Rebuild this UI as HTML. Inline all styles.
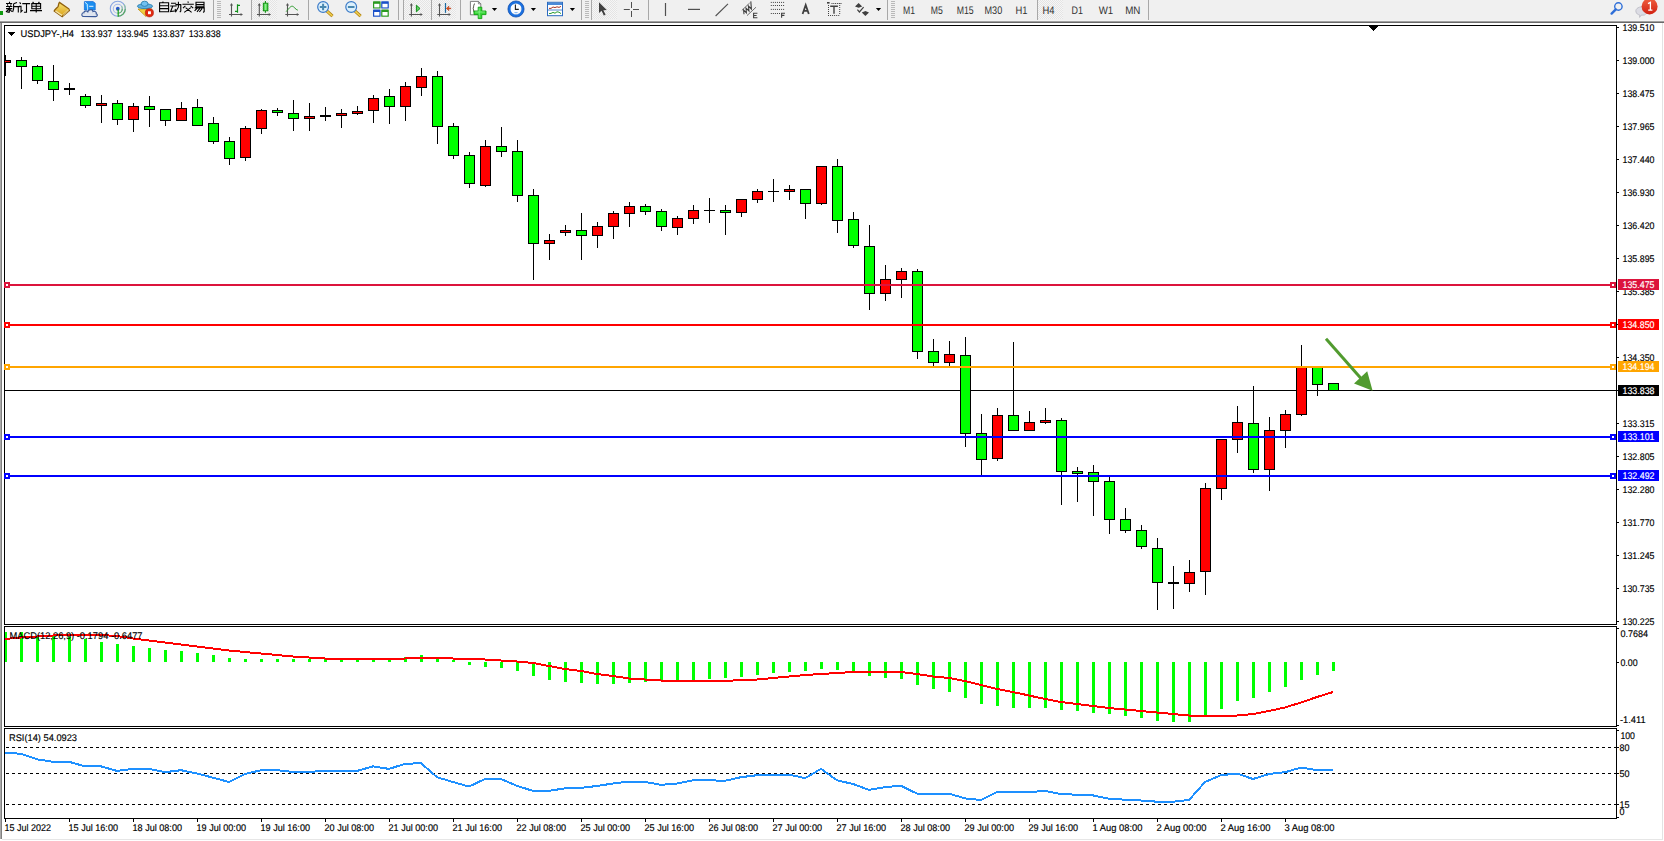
<!DOCTYPE html>
<html><head><meta charset="utf-8"><title>MT4</title>
<style>
html,body{margin:0;padding:0;background:#fff}
body{width:1664px;height:841px;overflow:hidden;position:relative}
svg{position:absolute;left:0;top:0;display:block}
text{font-family:"Liberation Sans", sans-serif;text-rendering:geometricPrecision}
</style></head><body>
<svg width="1664" height="841" viewBox="0 0 1664 841" shape-rendering="crispEdges">
<rect x="0" y="0" width="1664" height="841" fill="#ffffff"/>
<rect x="0" y="0" width="1664" height="21" fill="#f0f0f0"/>
<rect x="0" y="20" width="1664" height="1" fill="#f4f4f4"/>
<rect x="0" y="21" width="1664" height="1" fill="#a0a0a0"/>
<rect x="0" y="22" width="1664" height="1" fill="#696969"/>
<rect x="0" y="23" width="1" height="816" fill="#a9a9a9"/>
<rect x="1" y="23" width="1" height="816" fill="#808080"/>
<rect x="1662" y="23" width="1" height="816" fill="#e3e3e3"/>
<rect x="2" y="839" width="1661" height="1" fill="#e6e6e6"/>
<rect x="4" y="25" width="1613" height="1" fill="#000"/>
<rect x="4" y="624" width="1613" height="1" fill="#000"/>
<rect x="4" y="25" width="1" height="600" fill="#000"/>
<rect x="1616" y="25" width="1" height="600" fill="#000"/>
<rect x="4" y="626" width="1613" height="1" fill="#000"/>
<rect x="4" y="726" width="1613" height="1" fill="#000"/>
<rect x="4" y="626" width="1" height="101" fill="#000"/>
<rect x="1616" y="626" width="1" height="101" fill="#000"/>
<rect x="4" y="728" width="1613" height="1" fill="#000"/>
<rect x="4" y="818" width="1613" height="1" fill="#000"/>
<rect x="4" y="728" width="1" height="91" fill="#000"/>
<rect x="1616" y="728" width="1" height="91" fill="#000"/>
<defs><clipPath id="cm"><rect x="5" y="26" width="1611" height="598"/></clipPath><clipPath id="cd"><rect x="5" y="627" width="1611" height="99"/></clipPath><clipPath id="cr"><rect x="5" y="729" width="1611" height="89"/></clipPath></defs>
<g clip-path="url(#cm)">
<rect x="5" y="390" width="1611" height="1" fill="#000"/>
<rect x="5" y="55" width="1" height="21" fill="#000"/>
<rect x="0" y="60" width="11" height="3" fill="#000"/>
<rect x="1" y="61" width="9" height="1" fill="#ff0000"/>
<rect x="21" y="57" width="1" height="32" fill="#000"/>
<rect x="16" y="60" width="11" height="7" fill="#000"/>
<rect x="17" y="61" width="9" height="5" fill="#00ff00"/>
<rect x="37" y="65" width="1" height="19" fill="#000"/>
<rect x="32" y="66" width="11" height="15" fill="#000"/>
<rect x="33" y="67" width="9" height="13" fill="#00ff00"/>
<rect x="53" y="65" width="1" height="36" fill="#000"/>
<rect x="48" y="81" width="11" height="9" fill="#000"/>
<rect x="49" y="82" width="9" height="7" fill="#00ff00"/>
<rect x="69" y="83" width="1" height="12" fill="#000"/>
<rect x="64" y="88" width="11" height="2" fill="#000"/>
<rect x="85" y="94" width="1" height="14" fill="#000"/>
<rect x="80" y="96" width="11" height="10" fill="#000"/>
<rect x="81" y="97" width="9" height="8" fill="#00ff00"/>
<rect x="101" y="95" width="1" height="28" fill="#000"/>
<rect x="96" y="103" width="11" height="3" fill="#000"/>
<rect x="97" y="104" width="9" height="1" fill="#ff0000"/>
<rect x="117" y="100" width="1" height="25" fill="#000"/>
<rect x="112" y="103" width="11" height="17" fill="#000"/>
<rect x="113" y="104" width="9" height="15" fill="#00ff00"/>
<rect x="133" y="103" width="1" height="29" fill="#000"/>
<rect x="128" y="106" width="11" height="14" fill="#000"/>
<rect x="129" y="107" width="9" height="12" fill="#ff0000"/>
<rect x="149" y="96" width="1" height="31" fill="#000"/>
<rect x="144" y="106" width="11" height="4" fill="#000"/>
<rect x="145" y="107" width="9" height="2" fill="#00ff00"/>
<rect x="165" y="109" width="1" height="17" fill="#000"/>
<rect x="160" y="109" width="11" height="12" fill="#000"/>
<rect x="161" y="110" width="9" height="10" fill="#00ff00"/>
<rect x="181" y="102" width="1" height="19" fill="#000"/>
<rect x="176" y="108" width="11" height="13" fill="#000"/>
<rect x="177" y="109" width="9" height="11" fill="#ff0000"/>
<rect x="197" y="99" width="1" height="27" fill="#000"/>
<rect x="192" y="107" width="11" height="19" fill="#000"/>
<rect x="193" y="108" width="9" height="17" fill="#00ff00"/>
<rect x="213" y="117" width="1" height="27" fill="#000"/>
<rect x="208" y="123" width="11" height="19" fill="#000"/>
<rect x="209" y="124" width="9" height="17" fill="#00ff00"/>
<rect x="229" y="137" width="1" height="28" fill="#000"/>
<rect x="224" y="141" width="11" height="18" fill="#000"/>
<rect x="225" y="142" width="9" height="16" fill="#00ff00"/>
<rect x="245" y="126" width="1" height="35" fill="#000"/>
<rect x="240" y="128" width="11" height="30" fill="#000"/>
<rect x="241" y="129" width="9" height="28" fill="#ff0000"/>
<rect x="261" y="109" width="1" height="25" fill="#000"/>
<rect x="256" y="110" width="11" height="19" fill="#000"/>
<rect x="257" y="111" width="9" height="17" fill="#ff0000"/>
<rect x="277" y="108" width="1" height="8" fill="#000"/>
<rect x="272" y="110" width="11" height="3" fill="#000"/>
<rect x="273" y="111" width="9" height="1" fill="#00ff00"/>
<rect x="293" y="100" width="1" height="31" fill="#000"/>
<rect x="288" y="113" width="11" height="6" fill="#000"/>
<rect x="289" y="114" width="9" height="4" fill="#00ff00"/>
<rect x="309" y="103" width="1" height="28" fill="#000"/>
<rect x="304" y="116" width="11" height="3" fill="#000"/>
<rect x="305" y="117" width="9" height="1" fill="#ff0000"/>
<rect x="325" y="107" width="1" height="14" fill="#000"/>
<rect x="320" y="115" width="11" height="2" fill="#000"/>
<rect x="341" y="109" width="1" height="19" fill="#000"/>
<rect x="336" y="113" width="11" height="3" fill="#000"/>
<rect x="337" y="114" width="9" height="1" fill="#ff0000"/>
<rect x="357" y="106" width="1" height="9" fill="#000"/>
<rect x="352" y="111" width="11" height="3" fill="#000"/>
<rect x="353" y="112" width="9" height="1" fill="#ff0000"/>
<rect x="373" y="95" width="1" height="28" fill="#000"/>
<rect x="368" y="98" width="11" height="13" fill="#000"/>
<rect x="369" y="99" width="9" height="11" fill="#ff0000"/>
<rect x="389" y="89" width="1" height="35" fill="#000"/>
<rect x="384" y="96" width="11" height="11" fill="#000"/>
<rect x="385" y="97" width="9" height="9" fill="#00ff00"/>
<rect x="405" y="82" width="1" height="39" fill="#000"/>
<rect x="400" y="86" width="11" height="21" fill="#000"/>
<rect x="401" y="87" width="9" height="19" fill="#ff0000"/>
<rect x="421" y="68" width="1" height="28" fill="#000"/>
<rect x="416" y="76" width="11" height="12" fill="#000"/>
<rect x="417" y="77" width="9" height="10" fill="#ff0000"/>
<rect x="437" y="71" width="1" height="73" fill="#000"/>
<rect x="432" y="76" width="11" height="51" fill="#000"/>
<rect x="433" y="77" width="9" height="49" fill="#00ff00"/>
<rect x="453" y="123" width="1" height="36" fill="#000"/>
<rect x="448" y="126" width="11" height="30" fill="#000"/>
<rect x="449" y="127" width="9" height="28" fill="#00ff00"/>
<rect x="469" y="152" width="1" height="36" fill="#000"/>
<rect x="464" y="155" width="11" height="29" fill="#000"/>
<rect x="465" y="156" width="9" height="27" fill="#00ff00"/>
<rect x="485" y="140" width="1" height="47" fill="#000"/>
<rect x="480" y="146" width="11" height="40" fill="#000"/>
<rect x="481" y="147" width="9" height="38" fill="#ff0000"/>
<rect x="501" y="127" width="1" height="30" fill="#000"/>
<rect x="496" y="146" width="11" height="6" fill="#000"/>
<rect x="497" y="147" width="9" height="4" fill="#00ff00"/>
<rect x="517" y="140" width="1" height="62" fill="#000"/>
<rect x="512" y="151" width="11" height="45" fill="#000"/>
<rect x="513" y="152" width="9" height="43" fill="#00ff00"/>
<rect x="533" y="189" width="1" height="91" fill="#000"/>
<rect x="528" y="195" width="11" height="49" fill="#000"/>
<rect x="529" y="196" width="9" height="47" fill="#00ff00"/>
<rect x="549" y="234" width="1" height="26" fill="#000"/>
<rect x="544" y="240" width="11" height="4" fill="#000"/>
<rect x="545" y="241" width="9" height="2" fill="#ff0000"/>
<rect x="565" y="225" width="1" height="11" fill="#000"/>
<rect x="560" y="230" width="11" height="3" fill="#000"/>
<rect x="561" y="231" width="9" height="1" fill="#ff0000"/>
<rect x="581" y="213" width="1" height="47" fill="#000"/>
<rect x="576" y="230" width="11" height="6" fill="#000"/>
<rect x="577" y="231" width="9" height="4" fill="#00ff00"/>
<rect x="597" y="222" width="1" height="26" fill="#000"/>
<rect x="592" y="226" width="11" height="10" fill="#000"/>
<rect x="593" y="227" width="9" height="8" fill="#ff0000"/>
<rect x="613" y="211" width="1" height="28" fill="#000"/>
<rect x="608" y="213" width="11" height="14" fill="#000"/>
<rect x="609" y="214" width="9" height="12" fill="#ff0000"/>
<rect x="629" y="202" width="1" height="25" fill="#000"/>
<rect x="624" y="206" width="11" height="8" fill="#000"/>
<rect x="625" y="207" width="9" height="6" fill="#ff0000"/>
<rect x="645" y="204" width="1" height="11" fill="#000"/>
<rect x="640" y="206" width="11" height="6" fill="#000"/>
<rect x="641" y="207" width="9" height="4" fill="#00ff00"/>
<rect x="661" y="209" width="1" height="22" fill="#000"/>
<rect x="656" y="211" width="11" height="16" fill="#000"/>
<rect x="657" y="212" width="9" height="14" fill="#00ff00"/>
<rect x="677" y="216" width="1" height="19" fill="#000"/>
<rect x="672" y="218" width="11" height="10" fill="#000"/>
<rect x="673" y="219" width="9" height="8" fill="#ff0000"/>
<rect x="693" y="205" width="1" height="19" fill="#000"/>
<rect x="688" y="210" width="11" height="9" fill="#000"/>
<rect x="689" y="211" width="9" height="7" fill="#ff0000"/>
<rect x="709" y="198" width="1" height="25" fill="#000"/>
<rect x="704" y="210" width="11" height="1" fill="#000"/>
<rect x="725" y="205" width="1" height="30" fill="#000"/>
<rect x="720" y="210" width="11" height="3" fill="#000"/>
<rect x="721" y="211" width="9" height="1" fill="#00ff00"/>
<rect x="741" y="199" width="1" height="18" fill="#000"/>
<rect x="736" y="199" width="11" height="14" fill="#000"/>
<rect x="737" y="200" width="9" height="12" fill="#ff0000"/>
<rect x="757" y="189" width="1" height="14" fill="#000"/>
<rect x="752" y="191" width="11" height="9" fill="#000"/>
<rect x="753" y="192" width="9" height="7" fill="#ff0000"/>
<rect x="773" y="179" width="1" height="23" fill="#000"/>
<rect x="768" y="191" width="11" height="1" fill="#000"/>
<rect x="789" y="185" width="1" height="15" fill="#000"/>
<rect x="784" y="189" width="11" height="3" fill="#000"/>
<rect x="785" y="190" width="9" height="1" fill="#ff0000"/>
<rect x="805" y="189" width="1" height="30" fill="#000"/>
<rect x="800" y="189" width="11" height="15" fill="#000"/>
<rect x="801" y="190" width="9" height="13" fill="#00ff00"/>
<rect x="821" y="166" width="1" height="39" fill="#000"/>
<rect x="816" y="166" width="11" height="38" fill="#000"/>
<rect x="817" y="167" width="9" height="36" fill="#ff0000"/>
<rect x="837" y="159" width="1" height="74" fill="#000"/>
<rect x="832" y="166" width="11" height="55" fill="#000"/>
<rect x="833" y="167" width="9" height="53" fill="#00ff00"/>
<rect x="853" y="212" width="1" height="36" fill="#000"/>
<rect x="848" y="219" width="11" height="27" fill="#000"/>
<rect x="849" y="220" width="9" height="25" fill="#00ff00"/>
<rect x="869" y="225" width="1" height="85" fill="#000"/>
<rect x="864" y="246" width="11" height="48" fill="#000"/>
<rect x="865" y="247" width="9" height="46" fill="#00ff00"/>
<rect x="885" y="265" width="1" height="36" fill="#000"/>
<rect x="880" y="279" width="11" height="15" fill="#000"/>
<rect x="881" y="280" width="9" height="13" fill="#ff0000"/>
<rect x="901" y="268" width="1" height="30" fill="#000"/>
<rect x="896" y="271" width="11" height="9" fill="#000"/>
<rect x="897" y="272" width="9" height="7" fill="#ff0000"/>
<rect x="917" y="269" width="1" height="90" fill="#000"/>
<rect x="912" y="271" width="11" height="81" fill="#000"/>
<rect x="913" y="272" width="9" height="79" fill="#00ff00"/>
<rect x="933" y="339" width="1" height="28" fill="#000"/>
<rect x="928" y="351" width="11" height="12" fill="#000"/>
<rect x="929" y="352" width="9" height="10" fill="#00ff00"/>
<rect x="949" y="341" width="1" height="26" fill="#000"/>
<rect x="944" y="354" width="11" height="9" fill="#000"/>
<rect x="945" y="355" width="9" height="7" fill="#ff0000"/>
<rect x="965" y="337" width="1" height="110" fill="#000"/>
<rect x="960" y="355" width="11" height="79" fill="#000"/>
<rect x="961" y="356" width="9" height="77" fill="#00ff00"/>
<rect x="981" y="414" width="1" height="62" fill="#000"/>
<rect x="976" y="433" width="11" height="27" fill="#000"/>
<rect x="977" y="434" width="9" height="25" fill="#00ff00"/>
<rect x="997" y="408" width="1" height="53" fill="#000"/>
<rect x="992" y="415" width="11" height="44" fill="#000"/>
<rect x="993" y="416" width="9" height="42" fill="#ff0000"/>
<rect x="1013" y="342" width="1" height="89" fill="#000"/>
<rect x="1008" y="415" width="11" height="16" fill="#000"/>
<rect x="1009" y="416" width="9" height="14" fill="#00ff00"/>
<rect x="1029" y="411" width="1" height="20" fill="#000"/>
<rect x="1024" y="422" width="11" height="9" fill="#000"/>
<rect x="1025" y="423" width="9" height="7" fill="#ff0000"/>
<rect x="1045" y="408" width="1" height="16" fill="#000"/>
<rect x="1040" y="420" width="11" height="3" fill="#000"/>
<rect x="1041" y="421" width="9" height="1" fill="#ff0000"/>
<rect x="1061" y="418" width="1" height="87" fill="#000"/>
<rect x="1056" y="420" width="11" height="52" fill="#000"/>
<rect x="1057" y="421" width="9" height="50" fill="#00ff00"/>
<rect x="1077" y="467" width="1" height="35" fill="#000"/>
<rect x="1072" y="471" width="11" height="3" fill="#000"/>
<rect x="1073" y="472" width="9" height="1" fill="#00ff00"/>
<rect x="1093" y="465" width="1" height="51" fill="#000"/>
<rect x="1088" y="472" width="11" height="10" fill="#000"/>
<rect x="1089" y="473" width="9" height="8" fill="#00ff00"/>
<rect x="1109" y="477" width="1" height="57" fill="#000"/>
<rect x="1104" y="481" width="11" height="39" fill="#000"/>
<rect x="1105" y="482" width="9" height="37" fill="#00ff00"/>
<rect x="1125" y="508" width="1" height="25" fill="#000"/>
<rect x="1120" y="519" width="11" height="12" fill="#000"/>
<rect x="1121" y="520" width="9" height="10" fill="#00ff00"/>
<rect x="1141" y="525" width="1" height="24" fill="#000"/>
<rect x="1136" y="530" width="11" height="17" fill="#000"/>
<rect x="1137" y="531" width="9" height="15" fill="#00ff00"/>
<rect x="1157" y="538" width="1" height="72" fill="#000"/>
<rect x="1152" y="548" width="11" height="35" fill="#000"/>
<rect x="1153" y="549" width="9" height="33" fill="#00ff00"/>
<rect x="1173" y="566" width="1" height="43" fill="#000"/>
<rect x="1168" y="582" width="11" height="2" fill="#000"/>
<rect x="1189" y="560" width="1" height="32" fill="#000"/>
<rect x="1184" y="572" width="11" height="12" fill="#000"/>
<rect x="1185" y="573" width="9" height="10" fill="#ff0000"/>
<rect x="1205" y="483" width="1" height="112" fill="#000"/>
<rect x="1200" y="488" width="11" height="84" fill="#000"/>
<rect x="1201" y="489" width="9" height="82" fill="#ff0000"/>
<rect x="1221" y="439" width="1" height="61" fill="#000"/>
<rect x="1216" y="439" width="11" height="50" fill="#000"/>
<rect x="1217" y="440" width="9" height="48" fill="#ff0000"/>
<rect x="1237" y="406" width="1" height="47" fill="#000"/>
<rect x="1232" y="422" width="11" height="18" fill="#000"/>
<rect x="1233" y="423" width="9" height="16" fill="#ff0000"/>
<rect x="1253" y="386" width="1" height="87" fill="#000"/>
<rect x="1248" y="423" width="11" height="47" fill="#000"/>
<rect x="1249" y="424" width="9" height="45" fill="#00ff00"/>
<rect x="1269" y="417" width="1" height="74" fill="#000"/>
<rect x="1264" y="430" width="11" height="40" fill="#000"/>
<rect x="1265" y="431" width="9" height="38" fill="#ff0000"/>
<rect x="1285" y="410" width="1" height="38" fill="#000"/>
<rect x="1280" y="414" width="11" height="17" fill="#000"/>
<rect x="1281" y="415" width="9" height="15" fill="#ff0000"/>
<rect x="1301" y="345" width="1" height="71" fill="#000"/>
<rect x="1296" y="367" width="11" height="48" fill="#000"/>
<rect x="1297" y="368" width="9" height="46" fill="#ff0000"/>
<rect x="1317" y="367" width="1" height="29" fill="#000"/>
<rect x="1312" y="367" width="11" height="18" fill="#000"/>
<rect x="1313" y="368" width="9" height="16" fill="#00ff00"/>
<rect x="1333" y="383" width="1" height="8" fill="#000"/>
<rect x="1328" y="383" width="11" height="8" fill="#000"/>
<rect x="1329" y="384" width="9" height="6" fill="#00ff00"/>
<rect x="5" y="284" width="1611" height="2" fill="#dc143c"/>
<rect x="4" y="282" width="6" height="6" fill="#dc143c"/>
<rect x="6" y="284" width="2" height="2" fill="#fff"/>
<rect x="1610" y="282" width="6" height="6" fill="#dc143c"/>
<rect x="1612" y="284" width="2" height="2" fill="#fff"/>
<rect x="5" y="324" width="1611" height="2" fill="#ff0000"/>
<rect x="4" y="322" width="6" height="6" fill="#ff0000"/>
<rect x="6" y="324" width="2" height="2" fill="#fff"/>
<rect x="1610" y="322" width="6" height="6" fill="#ff0000"/>
<rect x="1612" y="324" width="2" height="2" fill="#fff"/>
<rect x="5" y="366" width="1611" height="2" fill="#ffa500"/>
<rect x="4" y="364" width="6" height="6" fill="#ffa500"/>
<rect x="6" y="366" width="2" height="2" fill="#fff"/>
<rect x="1610" y="364" width="6" height="6" fill="#ffa500"/>
<rect x="1612" y="366" width="2" height="2" fill="#fff"/>
<rect x="5" y="436" width="1611" height="2" fill="#0000ff"/>
<rect x="4" y="434" width="6" height="6" fill="#0000ff"/>
<rect x="6" y="436" width="2" height="2" fill="#fff"/>
<rect x="1610" y="434" width="6" height="6" fill="#0000ff"/>
<rect x="1612" y="436" width="2" height="2" fill="#fff"/>
<rect x="5" y="475" width="1611" height="2" fill="#0000ff"/>
<rect x="4" y="473" width="6" height="6" fill="#0000ff"/>
<rect x="6" y="475" width="2" height="2" fill="#fff"/>
<rect x="1610" y="473" width="6" height="6" fill="#0000ff"/>
<rect x="1612" y="475" width="2" height="2" fill="#fff"/>
</g>
<rect x="4" y="282" width="6" height="6" fill="#dc143c"/>
<rect x="6" y="284" width="2" height="2" fill="#fff"/>
<rect x="4" y="322" width="6" height="6" fill="#ff0000"/>
<rect x="6" y="324" width="2" height="2" fill="#fff"/>
<rect x="4" y="364" width="6" height="6" fill="#ffa500"/>
<rect x="6" y="366" width="2" height="2" fill="#fff"/>
<rect x="4" y="434" width="6" height="6" fill="#0000ff"/>
<rect x="6" y="436" width="2" height="2" fill="#fff"/>
<rect x="4" y="473" width="6" height="6" fill="#0000ff"/>
<rect x="6" y="475" width="2" height="2" fill="#fff"/>
<g shape-rendering="geometricPrecision">
<line x1="1326" y1="338.8" x2="1361.5" y2="379" stroke="#519b2f" stroke-width="3"/>
<polygon points="1354,383.4 1367.2,371.2 1372.6,390.8" fill="#519b2f"/>
</g>
<rect x="8" y="32" width="7" height="1" fill="#000"/>
<rect x="9" y="33" width="5" height="1" fill="#000"/>
<rect x="10" y="34" width="3" height="1" fill="#000"/>
<rect x="11" y="35" width="1" height="1" fill="#000"/>
<rect x="1369" y="26" width="9" height="1" fill="#000"/>
<rect x="1370" y="27" width="7" height="1" fill="#000"/>
<rect x="1371" y="28" width="5" height="1" fill="#000"/>
<rect x="1372" y="29" width="3" height="1" fill="#000"/>
<rect x="1373" y="30" width="1" height="1" fill="#000"/>
<text x="20.5" y="37" font-size="9.7" fill="#000" textLength="53.5" lengthAdjust="spacingAndGlyphs" stroke="#000" stroke-width="0.15">USDJPY-,H4</text>
<text x="80.5" y="37" font-size="9.7" fill="#000" textLength="32" lengthAdjust="spacingAndGlyphs" stroke="#000" stroke-width="0.15">133.937</text>
<text x="116.55" y="37" font-size="9.7" fill="#000" textLength="32" lengthAdjust="spacingAndGlyphs" stroke="#000" stroke-width="0.15">133.945</text>
<text x="152.6" y="37" font-size="9.7" fill="#000" textLength="32" lengthAdjust="spacingAndGlyphs" stroke="#000" stroke-width="0.15">133.837</text>
<text x="188.64999999999998" y="37" font-size="9.7" fill="#000" textLength="32" lengthAdjust="spacingAndGlyphs" stroke="#000" stroke-width="0.15">133.838</text>
<rect x="1617" y="27" width="2" height="1" fill="#000"/>
<text x="1622.5" y="31" font-size="9.7" fill="#000" textLength="32" lengthAdjust="spacingAndGlyphs" stroke="#000" stroke-width="0.15">139.510</text>
<rect x="1617" y="60" width="2" height="1" fill="#000"/>
<text x="1622.5" y="64" font-size="9.7" fill="#000" textLength="32" lengthAdjust="spacingAndGlyphs" stroke="#000" stroke-width="0.15">139.000</text>
<rect x="1617" y="93" width="2" height="1" fill="#000"/>
<text x="1622.5" y="97" font-size="9.7" fill="#000" textLength="32" lengthAdjust="spacingAndGlyphs" stroke="#000" stroke-width="0.15">138.475</text>
<rect x="1617" y="126" width="2" height="1" fill="#000"/>
<text x="1622.5" y="130" font-size="9.7" fill="#000" textLength="32" lengthAdjust="spacingAndGlyphs" stroke="#000" stroke-width="0.15">137.965</text>
<rect x="1617" y="159" width="2" height="1" fill="#000"/>
<text x="1622.5" y="163" font-size="9.7" fill="#000" textLength="32" lengthAdjust="spacingAndGlyphs" stroke="#000" stroke-width="0.15">137.440</text>
<rect x="1617" y="192" width="2" height="1" fill="#000"/>
<text x="1622.5" y="196" font-size="9.7" fill="#000" textLength="32" lengthAdjust="spacingAndGlyphs" stroke="#000" stroke-width="0.15">136.930</text>
<rect x="1617" y="225" width="2" height="1" fill="#000"/>
<text x="1622.5" y="229" font-size="9.7" fill="#000" textLength="32" lengthAdjust="spacingAndGlyphs" stroke="#000" stroke-width="0.15">136.420</text>
<rect x="1617" y="258" width="2" height="1" fill="#000"/>
<text x="1622.5" y="262" font-size="9.7" fill="#000" textLength="32" lengthAdjust="spacingAndGlyphs" stroke="#000" stroke-width="0.15">135.895</text>
<rect x="1617" y="291" width="2" height="1" fill="#000"/>
<text x="1622.5" y="295" font-size="9.7" fill="#000" textLength="32" lengthAdjust="spacingAndGlyphs" stroke="#000" stroke-width="0.15">135.385</text>
<rect x="1617" y="324" width="2" height="1" fill="#000"/>
<rect x="1617" y="357" width="2" height="1" fill="#000"/>
<text x="1622.5" y="361" font-size="9.7" fill="#000" textLength="32" lengthAdjust="spacingAndGlyphs" stroke="#000" stroke-width="0.15">134.350</text>
<rect x="1617" y="390" width="2" height="1" fill="#000"/>
<rect x="1617" y="423" width="2" height="1" fill="#000"/>
<text x="1622.5" y="427" font-size="9.7" fill="#000" textLength="32" lengthAdjust="spacingAndGlyphs" stroke="#000" stroke-width="0.15">133.315</text>
<rect x="1617" y="456" width="2" height="1" fill="#000"/>
<text x="1622.5" y="460" font-size="9.7" fill="#000" textLength="32" lengthAdjust="spacingAndGlyphs" stroke="#000" stroke-width="0.15">132.805</text>
<rect x="1617" y="489" width="2" height="1" fill="#000"/>
<text x="1622.5" y="493" font-size="9.7" fill="#000" textLength="32" lengthAdjust="spacingAndGlyphs" stroke="#000" stroke-width="0.15">132.280</text>
<rect x="1617" y="522" width="2" height="1" fill="#000"/>
<text x="1622.5" y="526" font-size="9.7" fill="#000" textLength="32" lengthAdjust="spacingAndGlyphs" stroke="#000" stroke-width="0.15">131.770</text>
<rect x="1617" y="555" width="2" height="1" fill="#000"/>
<text x="1622.5" y="559" font-size="9.7" fill="#000" textLength="32" lengthAdjust="spacingAndGlyphs" stroke="#000" stroke-width="0.15">131.245</text>
<rect x="1617" y="588" width="2" height="1" fill="#000"/>
<text x="1622.5" y="592" font-size="9.7" fill="#000" textLength="32" lengthAdjust="spacingAndGlyphs" stroke="#000" stroke-width="0.15">130.735</text>
<rect x="1617" y="621" width="2" height="1" fill="#000"/>
<text x="1622.5" y="625" font-size="9.7" fill="#000" textLength="32" lengthAdjust="spacingAndGlyphs" stroke="#000" stroke-width="0.15">130.225</text>
<rect x="1618" y="279" width="41" height="11" fill="#dc143c"/>
<text x="1622.5" y="288" font-size="9.7" fill="#fff" textLength="32" lengthAdjust="spacingAndGlyphs" stroke="#fff" stroke-width="0.15">135.475</text>
<rect x="1618" y="319" width="41" height="11" fill="#ff0000"/>
<text x="1622.5" y="328" font-size="9.7" fill="#fff" textLength="32" lengthAdjust="spacingAndGlyphs" stroke="#fff" stroke-width="0.15">134.850</text>
<rect x="1618" y="361" width="41" height="11" fill="#ffa500"/>
<text x="1622.5" y="370" font-size="9.7" fill="#fff" textLength="32" lengthAdjust="spacingAndGlyphs" stroke="#fff" stroke-width="0.15">134.194</text>
<rect x="1618" y="385" width="41" height="11" fill="#000000"/>
<text x="1622.5" y="394" font-size="9.7" fill="#fff" textLength="32" lengthAdjust="spacingAndGlyphs" stroke="#fff" stroke-width="0.15">133.838</text>
<rect x="1618" y="431" width="41" height="11" fill="#0000ff"/>
<text x="1622.5" y="440" font-size="9.7" fill="#fff" textLength="32" lengthAdjust="spacingAndGlyphs" stroke="#fff" stroke-width="0.15">133.101</text>
<rect x="1618" y="470" width="41" height="11" fill="#0000ff"/>
<text x="1622.5" y="479" font-size="9.7" fill="#fff" textLength="32" lengthAdjust="spacingAndGlyphs" stroke="#fff" stroke-width="0.15">132.492</text>
<g clip-path="url(#cd)">
<rect x="4" y="632" width="3" height="30" fill="#00ff00"/>
<rect x="20" y="632" width="3" height="30" fill="#00ff00"/>
<rect x="36" y="636" width="3" height="26" fill="#00ff00"/>
<rect x="52" y="636" width="3" height="26" fill="#00ff00"/>
<rect x="68" y="637" width="3" height="25" fill="#00ff00"/>
<rect x="84" y="639" width="3" height="23" fill="#00ff00"/>
<rect x="100" y="642" width="3" height="20" fill="#00ff00"/>
<rect x="116" y="644" width="3" height="18" fill="#00ff00"/>
<rect x="132" y="646" width="3" height="16" fill="#00ff00"/>
<rect x="148" y="648" width="3" height="14" fill="#00ff00"/>
<rect x="164" y="650" width="3" height="12" fill="#00ff00"/>
<rect x="180" y="651" width="3" height="11" fill="#00ff00"/>
<rect x="196" y="653" width="3" height="9" fill="#00ff00"/>
<rect x="212" y="655" width="3" height="7" fill="#00ff00"/>
<rect x="228" y="658" width="3" height="4" fill="#00ff00"/>
<rect x="244" y="659" width="3" height="3" fill="#00ff00"/>
<rect x="260" y="659" width="3" height="3" fill="#00ff00"/>
<rect x="276" y="659" width="3" height="3" fill="#00ff00"/>
<rect x="292" y="659" width="3" height="3" fill="#00ff00"/>
<rect x="308" y="659" width="3" height="3" fill="#00ff00"/>
<rect x="324" y="659" width="3" height="3" fill="#00ff00"/>
<rect x="340" y="659" width="3" height="3" fill="#00ff00"/>
<rect x="356" y="659" width="3" height="3" fill="#00ff00"/>
<rect x="372" y="659" width="3" height="3" fill="#00ff00"/>
<rect x="388" y="659" width="3" height="3" fill="#00ff00"/>
<rect x="404" y="657" width="3" height="5" fill="#00ff00"/>
<rect x="420" y="655" width="3" height="7" fill="#00ff00"/>
<rect x="436" y="659" width="3" height="3" fill="#00ff00"/>
<rect x="452" y="660" width="3" height="2" fill="#00ff00"/>
<rect x="468" y="662" width="3" height="3" fill="#00ff00"/>
<rect x="484" y="662" width="3" height="5" fill="#00ff00"/>
<rect x="500" y="662" width="3" height="6" fill="#00ff00"/>
<rect x="516" y="662" width="3" height="9" fill="#00ff00"/>
<rect x="532" y="662" width="3" height="14" fill="#00ff00"/>
<rect x="548" y="662" width="3" height="18" fill="#00ff00"/>
<rect x="564" y="662" width="3" height="20" fill="#00ff00"/>
<rect x="580" y="662" width="3" height="21" fill="#00ff00"/>
<rect x="596" y="662" width="3" height="22" fill="#00ff00"/>
<rect x="612" y="662" width="3" height="22" fill="#00ff00"/>
<rect x="628" y="662" width="3" height="21" fill="#00ff00"/>
<rect x="644" y="662" width="3" height="20" fill="#00ff00"/>
<rect x="660" y="662" width="3" height="19" fill="#00ff00"/>
<rect x="676" y="662" width="3" height="18" fill="#00ff00"/>
<rect x="692" y="662" width="3" height="18" fill="#00ff00"/>
<rect x="708" y="662" width="3" height="17" fill="#00ff00"/>
<rect x="724" y="662" width="3" height="16" fill="#00ff00"/>
<rect x="740" y="662" width="3" height="15" fill="#00ff00"/>
<rect x="756" y="662" width="3" height="13" fill="#00ff00"/>
<rect x="772" y="662" width="3" height="11" fill="#00ff00"/>
<rect x="788" y="662" width="3" height="10" fill="#00ff00"/>
<rect x="804" y="662" width="3" height="9" fill="#00ff00"/>
<rect x="820" y="662" width="3" height="7" fill="#00ff00"/>
<rect x="836" y="662" width="3" height="8" fill="#00ff00"/>
<rect x="852" y="662" width="3" height="10" fill="#00ff00"/>
<rect x="868" y="662" width="3" height="14" fill="#00ff00"/>
<rect x="884" y="662" width="3" height="16" fill="#00ff00"/>
<rect x="900" y="662" width="3" height="17" fill="#00ff00"/>
<rect x="916" y="662" width="3" height="23" fill="#00ff00"/>
<rect x="932" y="662" width="3" height="27" fill="#00ff00"/>
<rect x="948" y="662" width="3" height="30" fill="#00ff00"/>
<rect x="964" y="662" width="3" height="36" fill="#00ff00"/>
<rect x="980" y="662" width="3" height="42" fill="#00ff00"/>
<rect x="996" y="662" width="3" height="44" fill="#00ff00"/>
<rect x="1012" y="662" width="3" height="46" fill="#00ff00"/>
<rect x="1028" y="662" width="3" height="46" fill="#00ff00"/>
<rect x="1044" y="662" width="3" height="46" fill="#00ff00"/>
<rect x="1060" y="662" width="3" height="48" fill="#00ff00"/>
<rect x="1076" y="662" width="3" height="49" fill="#00ff00"/>
<rect x="1092" y="662" width="3" height="51" fill="#00ff00"/>
<rect x="1108" y="662" width="3" height="52" fill="#00ff00"/>
<rect x="1124" y="662" width="3" height="54" fill="#00ff00"/>
<rect x="1140" y="662" width="3" height="56" fill="#00ff00"/>
<rect x="1156" y="662" width="3" height="59" fill="#00ff00"/>
<rect x="1172" y="662" width="3" height="60" fill="#00ff00"/>
<rect x="1188" y="662" width="3" height="60" fill="#00ff00"/>
<rect x="1204" y="662" width="3" height="54" fill="#00ff00"/>
<rect x="1220" y="662" width="3" height="47" fill="#00ff00"/>
<rect x="1236" y="662" width="3" height="39" fill="#00ff00"/>
<rect x="1252" y="662" width="3" height="36" fill="#00ff00"/>
<rect x="1268" y="662" width="3" height="30" fill="#00ff00"/>
<rect x="1284" y="662" width="3" height="25" fill="#00ff00"/>
<rect x="1300" y="662" width="3" height="18" fill="#00ff00"/>
<rect x="1316" y="662" width="3" height="13" fill="#00ff00"/>
<rect x="1332" y="662" width="3" height="9" fill="#00ff00"/>
<polyline points="5,639 21,637.5 37,636.5 53,635.5 69,635 85,635 101,635 117,636 133,638.5 149,640.5 165,642.5 181,644.5 197,646.5 213,648.5 229,650.5 245,652 261,653.5 277,655 293,656.5 309,657.5 325,658.5 341,659 357,659 373,659 389,658.5 405,658.5 421,658 437,658 453,658.5 469,659 485,659.5 501,660.5 517,661.5 533,663 549,666 565,669 581,671 597,674 613,676 629,678.5 645,679.5 661,680.5 677,681 693,681 709,681 725,681 741,680 757,679.5 773,678 789,676.5 805,675 821,674 837,673 853,672 869,671.5 885,671.5 901,672 917,674 933,676.5 949,678 965,681 981,685 997,689 1013,692 1029,695.5 1045,699 1061,702 1077,704 1093,706 1109,708 1125,709.5 1141,711 1157,712.5 1173,714 1189,715.5 1205,715.5 1221,715.5 1237,715.5 1253,714 1269,711 1285,707.5 1301,702.5 1317,697 1333,692" fill="none" stroke="#ff0000" stroke-width="2"/>
</g>
<text x="9.5" y="639" font-size="9.7" fill="#000" textLength="133" lengthAdjust="spacingAndGlyphs" stroke="#000" stroke-width="0.15">MACD(12,26,9) -0.1794 -0.6477</text>
<rect x="1617" y="628" width="2" height="1" fill="#000"/>
<rect x="1617" y="662" width="2" height="1" fill="#000"/>
<rect x="1617" y="725" width="2" height="1" fill="#000"/>
<text x="1620.4" y="637" font-size="9.7" fill="#000" textLength="27.6" lengthAdjust="spacingAndGlyphs" stroke="#000" stroke-width="0.15">0.7684</text>
<text x="1620.4" y="666" font-size="9.7" fill="#000" textLength="17.2" lengthAdjust="spacingAndGlyphs" stroke="#000" stroke-width="0.15">0.00</text>
<text x="1620" y="723" font-size="9.7" fill="#000" textLength="25.7" lengthAdjust="spacingAndGlyphs" stroke="#000" stroke-width="0.15">-1.411</text>
<line x1="6" y1="747.5" x2="1616" y2="747.5" stroke="#000" stroke-width="1" stroke-dasharray="3,3"/>
<line x1="6" y1="773.5" x2="1616" y2="773.5" stroke="#000" stroke-width="1" stroke-dasharray="3,3"/>
<line x1="6" y1="804.5" x2="1616" y2="804.5" stroke="#000" stroke-width="1" stroke-dasharray="3,3"/>
<g clip-path="url(#cr)">
<polyline points="5,752.5 21,753.8 37,759.3 53,761.8 69,761.8 85,766.4 101,766.4 117,770.9 133,768.9 149,768.9 165,772.2 181,770.2 197,773.5 213,777.7 229,782 245,774 261,770.2 277,770.2 293,771.9 309,771.9 325,770.9 341,770.9 357,770.9 373,766.4 389,768.9 405,763.9 421,763.1 437,777.2 453,782 469,786.6 485,779 501,779 517,785.8 533,790.9 549,790.9 565,788.3 581,787.8 597,786 613,783.5 629,781.5 645,782 661,784.8 677,783.5 693,780.3 709,780.3 725,780.8 741,777.2 757,775.2 773,774.5 789,774.5 805,778.2 821,768.9 837,780.3 853,784 869,789.9 885,787.1 901,785.8 917,793.6 933,793.6 949,793.6 965,798.4 981,800 997,792.1 1013,792.1 1029,792.1 1045,790.9 1061,794.1 1077,794.7 1093,795.4 1109,798.7 1125,799.7 1141,800.5 1157,801.7 1173,801.7 1189,800 1205,782 1221,775.2 1237,773.5 1253,779 1269,774 1285,772.2 1301,767.6 1317,770.2 1333,770.2" fill="none" stroke="#1e90ff" stroke-width="2"/>
</g>
<text x="9" y="741" font-size="9.7" fill="#000" textLength="68" lengthAdjust="spacingAndGlyphs" stroke="#000" stroke-width="0.15">RSI(14) 54.0923</text>
<rect x="1617" y="730" width="2" height="1" fill="#000"/>
<rect x="1617" y="747" width="2" height="1" fill="#000"/>
<rect x="1617" y="773" width="2" height="1" fill="#000"/>
<rect x="1617" y="804" width="2" height="1" fill="#000"/>
<rect x="1617" y="817" width="2" height="1" fill="#000"/>
<text x="1620.4" y="739" font-size="9.7" fill="#000" textLength="14.6" lengthAdjust="spacingAndGlyphs" stroke="#000" stroke-width="0.15">100</text>
<text x="1619.5" y="751" font-size="9.7" fill="#000" textLength="10" lengthAdjust="spacingAndGlyphs" stroke="#000" stroke-width="0.15">80</text>
<text x="1619.5" y="777" font-size="9.7" fill="#000" textLength="10" lengthAdjust="spacingAndGlyphs" stroke="#000" stroke-width="0.15">50</text>
<text x="1619.5" y="808" font-size="9.7" fill="#000" textLength="10" lengthAdjust="spacingAndGlyphs" stroke="#000" stroke-width="0.15">15</text>
<text x="1619.5" y="815" font-size="9.7" fill="#000" textLength="5" lengthAdjust="spacingAndGlyphs" stroke="#000" stroke-width="0.15">0</text>
<rect x="5" y="819" width="1" height="3" fill="#000"/>
<text x="4.5" y="831" font-size="9.7" fill="#000" textLength="46.4" lengthAdjust="spacingAndGlyphs" stroke="#000" stroke-width="0.15">15 Jul 2022</text>
<rect x="69" y="819" width="1" height="3" fill="#000"/>
<text x="68.5" y="831" font-size="9.7" fill="#000" textLength="49.5" lengthAdjust="spacingAndGlyphs" stroke="#000" stroke-width="0.15">15 Jul 16:00</text>
<rect x="133" y="819" width="1" height="3" fill="#000"/>
<text x="132.5" y="831" font-size="9.7" fill="#000" textLength="49.5" lengthAdjust="spacingAndGlyphs" stroke="#000" stroke-width="0.15">18 Jul 08:00</text>
<rect x="197" y="819" width="1" height="3" fill="#000"/>
<text x="196.5" y="831" font-size="9.7" fill="#000" textLength="49.5" lengthAdjust="spacingAndGlyphs" stroke="#000" stroke-width="0.15">19 Jul 00:00</text>
<rect x="261" y="819" width="1" height="3" fill="#000"/>
<text x="260.5" y="831" font-size="9.7" fill="#000" textLength="49.5" lengthAdjust="spacingAndGlyphs" stroke="#000" stroke-width="0.15">19 Jul 16:00</text>
<rect x="325" y="819" width="1" height="3" fill="#000"/>
<text x="324.5" y="831" font-size="9.7" fill="#000" textLength="49.5" lengthAdjust="spacingAndGlyphs" stroke="#000" stroke-width="0.15">20 Jul 08:00</text>
<rect x="389" y="819" width="1" height="3" fill="#000"/>
<text x="388.5" y="831" font-size="9.7" fill="#000" textLength="49.5" lengthAdjust="spacingAndGlyphs" stroke="#000" stroke-width="0.15">21 Jul 00:00</text>
<rect x="453" y="819" width="1" height="3" fill="#000"/>
<text x="452.5" y="831" font-size="9.7" fill="#000" textLength="49.5" lengthAdjust="spacingAndGlyphs" stroke="#000" stroke-width="0.15">21 Jul 16:00</text>
<rect x="517" y="819" width="1" height="3" fill="#000"/>
<text x="516.5" y="831" font-size="9.7" fill="#000" textLength="49.5" lengthAdjust="spacingAndGlyphs" stroke="#000" stroke-width="0.15">22 Jul 08:00</text>
<rect x="581" y="819" width="1" height="3" fill="#000"/>
<text x="580.5" y="831" font-size="9.7" fill="#000" textLength="49.5" lengthAdjust="spacingAndGlyphs" stroke="#000" stroke-width="0.15">25 Jul 00:00</text>
<rect x="645" y="819" width="1" height="3" fill="#000"/>
<text x="644.5" y="831" font-size="9.7" fill="#000" textLength="49.5" lengthAdjust="spacingAndGlyphs" stroke="#000" stroke-width="0.15">25 Jul 16:00</text>
<rect x="709" y="819" width="1" height="3" fill="#000"/>
<text x="708.5" y="831" font-size="9.7" fill="#000" textLength="49.5" lengthAdjust="spacingAndGlyphs" stroke="#000" stroke-width="0.15">26 Jul 08:00</text>
<rect x="773" y="819" width="1" height="3" fill="#000"/>
<text x="772.5" y="831" font-size="9.7" fill="#000" textLength="49.5" lengthAdjust="spacingAndGlyphs" stroke="#000" stroke-width="0.15">27 Jul 00:00</text>
<rect x="837" y="819" width="1" height="3" fill="#000"/>
<text x="836.5" y="831" font-size="9.7" fill="#000" textLength="49.5" lengthAdjust="spacingAndGlyphs" stroke="#000" stroke-width="0.15">27 Jul 16:00</text>
<rect x="901" y="819" width="1" height="3" fill="#000"/>
<text x="900.5" y="831" font-size="9.7" fill="#000" textLength="49.5" lengthAdjust="spacingAndGlyphs" stroke="#000" stroke-width="0.15">28 Jul 08:00</text>
<rect x="965" y="819" width="1" height="3" fill="#000"/>
<text x="964.5" y="831" font-size="9.7" fill="#000" textLength="49.5" lengthAdjust="spacingAndGlyphs" stroke="#000" stroke-width="0.15">29 Jul 00:00</text>
<rect x="1029" y="819" width="1" height="3" fill="#000"/>
<text x="1028.5" y="831" font-size="9.7" fill="#000" textLength="49.5" lengthAdjust="spacingAndGlyphs" stroke="#000" stroke-width="0.15">29 Jul 16:00</text>
<rect x="1093" y="819" width="1" height="3" fill="#000"/>
<text x="1092.5" y="831" font-size="9.7" fill="#000" textLength="50" lengthAdjust="spacingAndGlyphs" stroke="#000" stroke-width="0.15">1 Aug 08:00</text>
<rect x="1157" y="819" width="1" height="3" fill="#000"/>
<text x="1156.5" y="831" font-size="9.7" fill="#000" textLength="50" lengthAdjust="spacingAndGlyphs" stroke="#000" stroke-width="0.15">2 Aug 00:00</text>
<rect x="1221" y="819" width="1" height="3" fill="#000"/>
<text x="1220.5" y="831" font-size="9.7" fill="#000" textLength="50" lengthAdjust="spacingAndGlyphs" stroke="#000" stroke-width="0.15">2 Aug 16:00</text>
<rect x="1285" y="819" width="1" height="3" fill="#000"/>
<text x="1284.5" y="831" font-size="9.7" fill="#000" textLength="50" lengthAdjust="spacingAndGlyphs" stroke="#000" stroke-width="0.15">3 Aug 08:00</text>
<defs><pattern id="chk" width="2" height="2" patternUnits="userSpaceOnUse"><rect width="2" height="2" fill="#f6f6f6"/><rect width="1" height="1" fill="#e4e4e4"/><rect x="1" y="1" width="1" height="1" fill="#e4e4e4"/></pattern><linearGradient id="gold" x1="0" y1="0" x2="0" y2="1"><stop offset="0" stop-color="#f8e070"/><stop offset="1" stop-color="#d8a018"/></linearGradient><linearGradient id="redg" x1="0" y1="0" x2="0" y2="1"><stop offset="0" stop-color="#f06040"/><stop offset="1" stop-color="#d02010"/></linearGradient><linearGradient id="greeng" x1="0" y1="0" x2="1" y2="0"><stop offset="0" stop-color="#20c020"/><stop offset=".5" stop-color="#90f090"/><stop offset="1" stop-color="#20c020"/></linearGradient></defs>
<rect x="252" y="0" width="25" height="19" fill="url(#chk)"/>
<rect x="404" y="0" width="27" height="19" fill="url(#chk)"/>
<rect x="432" y="0" width="24" height="19" fill="url(#chk)"/>
<rect x="592" y="0" width="25" height="19" fill="url(#chk)"/>
<rect x="1038" y="0" width="25" height="19" fill="url(#chk)"/>
<rect x="213" y="0" width="1" height="20" fill="#a8a8a8"/>
<rect x="251" y="0" width="1" height="20" fill="#a8a8a8"/>
<rect x="308" y="0" width="1" height="20" fill="#a8a8a8"/>
<rect x="398" y="0" width="1" height="20" fill="#a8a8a8"/>
<rect x="403" y="0" width="1" height="20" fill="#a8a8a8"/>
<rect x="431" y="0" width="1" height="20" fill="#a8a8a8"/>
<rect x="460" y="0" width="1" height="20" fill="#a8a8a8"/>
<rect x="581" y="0" width="1" height="20" fill="#a8a8a8"/>
<rect x="591" y="0" width="1" height="20" fill="#a8a8a8"/>
<rect x="648" y="0" width="1" height="20" fill="#a8a8a8"/>
<rect x="887" y="0" width="1" height="20" fill="#a8a8a8"/>
<rect x="1037" y="0" width="1" height="20" fill="#a8a8a8"/>
<rect x="1148" y="0" width="1" height="20" fill="#a8a8a8"/>
<rect x="217" y="1" width="4" height="1" fill="#b9b9b9"/>
<rect x="217" y="3" width="4" height="1" fill="#b9b9b9"/>
<rect x="217" y="5" width="4" height="1" fill="#b9b9b9"/>
<rect x="217" y="7" width="4" height="1" fill="#b9b9b9"/>
<rect x="217" y="9" width="4" height="1" fill="#b9b9b9"/>
<rect x="217" y="11" width="4" height="1" fill="#b9b9b9"/>
<rect x="217" y="13" width="4" height="1" fill="#b9b9b9"/>
<rect x="217" y="15" width="4" height="1" fill="#b9b9b9"/>
<rect x="217" y="17" width="4" height="1" fill="#b9b9b9"/>
<rect x="585" y="1" width="4" height="1" fill="#b9b9b9"/>
<rect x="585" y="3" width="4" height="1" fill="#b9b9b9"/>
<rect x="585" y="5" width="4" height="1" fill="#b9b9b9"/>
<rect x="585" y="7" width="4" height="1" fill="#b9b9b9"/>
<rect x="585" y="9" width="4" height="1" fill="#b9b9b9"/>
<rect x="585" y="11" width="4" height="1" fill="#b9b9b9"/>
<rect x="585" y="13" width="4" height="1" fill="#b9b9b9"/>
<rect x="585" y="15" width="4" height="1" fill="#b9b9b9"/>
<rect x="585" y="17" width="4" height="1" fill="#b9b9b9"/>
<rect x="891" y="1" width="4" height="1" fill="#b9b9b9"/>
<rect x="891" y="3" width="4" height="1" fill="#b9b9b9"/>
<rect x="891" y="5" width="4" height="1" fill="#b9b9b9"/>
<rect x="891" y="7" width="4" height="1" fill="#b9b9b9"/>
<rect x="891" y="9" width="4" height="1" fill="#b9b9b9"/>
<rect x="891" y="11" width="4" height="1" fill="#b9b9b9"/>
<rect x="891" y="13" width="4" height="1" fill="#b9b9b9"/>
<rect x="891" y="15" width="4" height="1" fill="#b9b9b9"/>
<rect x="891" y="17" width="4" height="1" fill="#b9b9b9"/>
<g shape-rendering="geometricPrecision">
<rect x="0" y="11" width="3" height="4" fill="#109a10"/>
<path fill="none" stroke="#000" stroke-width="1.1" d="M9.5 1.8v1.6 M6 3.5h6.2 M7.3 4.3l0.7 1.4 M11.2 4.3l-0.7 1.4 M6 6.5h6.3 M6 8.6h6.3 M9.3 6.5v5.6h-2 M8.6 9.4l-2.6 2.6 M10 9.6l1.8 2 M17 2.6l-3.4 1.2 M13.6 3.8v5.2l-1 3 M13.6 6.6h6.2 M18.3 6.6v6"/>
<path fill="none" stroke="#000" stroke-width="1.1" d="M19.6 2.4l1.2 1.4 M19 6.4h2v5.4l1.6-1.6 M22.3 3.6h7.8 M26.5 3.6v8.6h-2.6"/>
<path fill="none" stroke="#000" stroke-width="1.1" d="M32.6 1.8l1 1.3 M39.4 1.8l-1 1.3 M31.8 3.6h8.8v5.2h-8.8z M31.8 6.2h8.8 M30 10.6h12 M36.2 3.6v8.8"/>
<path d="M59.4 2.4 L68.8 8.8 L69.4 10.6 L62.2 16.6 L54.2 10.9 C54.6 9.6 57.6 7.4 58.2 6.2 C58.6 4.8 58.6 3.2 59.4 2.4 Z" fill="url(#gold)" stroke="#90600c" stroke-width="1.3"/>
<path d="M55.4 11 L62 15.4" stroke="#f4e4a8" stroke-width="1.3" fill="none"/>
<path d="M63.2 15.6 L69 10.4 M62.6 14.6 L68.4 9.6" stroke="#f0e0b0" stroke-width="0.6" fill="none"/>
<path d="M84.4 1.6 H93 L95.2 3.2 V10 H84.4 Z" fill="#1a8ef0" stroke="#1a6ed8" stroke-width="0.8"/>
<path d="M84.8 2 L87.6 4.4 V10" fill="#40b0ff" stroke="#e0f4ff" stroke-width="0.8"/>
<path d="M89.2 6.3 H93.4" stroke="#e8f6ff" stroke-width="1" fill="none"/>
<path d="M83.2 16.4 C81.2 16.2 81.4 12.6 83.8 12.8 C83.8 11 86.6 10.4 87.8 11.8 C88.4 9.2 92.6 8.8 93 11.6 C94.6 10.8 97 12 96.2 13.8 C98 14.4 97.6 16.6 95.6 16.6 Z" fill="#dfe5ef" stroke="#3a5898" stroke-width="1.1"/>
<circle cx="117.8" cy="8.75" r="7.5" fill="none" stroke="#7c9ce0" stroke-width="1.1" opacity="0.9"/>
<circle cx="117.8" cy="8.75" r="4.5" fill="none" stroke="#9cb4e8" stroke-width="1.1" opacity="0.9"/>
<path d="M125.3 8.75 A7.5 7.5 0 0 1 117.8 16.25 M122.3 8.75 A4.5 4.5 0 0 1 117.8 13.25" fill="none" stroke="#58a860" stroke-width="1.2"/>
<path d="M124.2 4.6 A7.5 7.5 0 0 1 125.3 8.75 M121.6 6 A4.5 4.5 0 0 1 122.3 8.75" fill="none" stroke="#90c0a0" stroke-width="1.1"/>
<circle cx="117.8" cy="8.75" r="1.9" fill="#2a58c8"/>
<path d="M118.2 9.2 V16.6" stroke="#18a018" stroke-width="1.2"/>
<path d="M138 9 L152 9 L146 16.5 Z" fill="#f0d040" stroke="#c09010" stroke-width="0.8"/>
<ellipse cx="145" cy="6.2" rx="7.6" ry="2.4" fill="#60b0e0" stroke="#2a80b0" stroke-width="0.9"/>
<ellipse cx="144.6" cy="3.8" rx="3.4" ry="2.6" fill="#70c0f0" stroke="#2a80b0" stroke-width="0.9"/>
<circle cx="149.4" cy="12.8" r="4.1" fill="#e02a10" stroke="#b01a08" stroke-width="0.6"/>
<rect x="148" y="11.3" width="2.9" height="2.9" fill="#fff"/>
<path fill="none" stroke="#000" stroke-width="1.1" d="M162.6 1.6l0.6 1 M159.6 2.8h9v9h-9z M159.6 5.8h9 M159.6 8.6h9"/>
<path fill="none" stroke="#000" stroke-width="1.1" d="M171 3.2h5.2 M170.2 6h6.4 M172.8 6l-2.2 5.6 l5.6-0.8 M175 9l1.4 2.6 M175.4 4.6h5.4v6.4l-1 1.2 M178.4 1.8v5.4l-3 5"/>
<path fill="none" stroke="#000" stroke-width="1.1" d="M187.8 1.6l0.6 1.2 M182.4 4.2h11.4 M185.4 5.8l-2.4 2.4 M190.6 5.8l2.6 2.4 M185.6 7.6l6 4.8 M190.8 7.6l-6.6 4.8"/>
<path fill="none" stroke="#000" stroke-width="1.1" d="M196 2.3h8v4.6h-8z M196 4.6h8 M194.8 7.9h9.4v3.6l-1 1 M197.4 8l-2.8 2.8 M199.8 8.4l-2.8 3.4 M202 8.6l-2.6 3.4"/>
<path d="M231.5 3.8000000000000003 V16.6 M229 14.5 H242.20000000000002" stroke="#555" stroke-width="1.1" fill="none"/>
<path d="M229.9 5.4 L231.5 3.2 L233.1 5.4 Z M240.60000000000002 12.9 L242.8 14.5 L240.60000000000002 16.1 Z" fill="#555"/>
<path d="M237.5 4.2 V12.8 M237.5 5.4 H240 M235 11.4 H237.5" stroke="#10901a" stroke-width="1.2" fill="none"/>
<path d="M259.3 3.8000000000000003 V16.6 M257 14.5 H270.29999999999995" stroke="#555" stroke-width="1.1" fill="none"/>
<path d="M257.7 5.4 L259.3 3.2 L260.90000000000003 5.4 Z M268.7 12.9 L270.9 14.5 L268.7 16.1 Z" fill="#555"/>
<path d="M265.4 1 V12.8" stroke="#109010" stroke-width="1.1"/>
<rect x="263.3" y="3.2" width="4.6" height="7.6" fill="url(#greeng)" stroke="#109010" stroke-width="0.9"/>
<path d="M287.5 3.8000000000000003 V16.6 M285.3 14.5 H298.4" stroke="#555" stroke-width="1.1" fill="none"/>
<path d="M285.9 5.4 L287.5 3.2 L289.1 5.4 Z M296.8 12.9 L299 14.5 L296.8 16.1 Z" fill="#555"/>
<path d="M286.2 11.6 C288.5 9 290.5 6 292.3 6.2 C294 6.4 295.5 9.6 297.8 10.2" stroke="#2a9a2a" stroke-width="1" fill="none"/>
<path d="M326.5 10.6 L332.5 16.2" stroke="#b08010" stroke-width="3.2"/>
<path d="M326.70000000000005 10.8 L332.3 16" stroke="#f0d050" stroke-width="1.6"/>
<circle cx="323.1" cy="7" r="5.4" fill="#dcf0fc" stroke="#3a7ac8" stroke-width="1.2"/>
<path d="M319.8 7 H326.40000000000003 M323.1 3.7 V10.3" stroke="#4a88b0" stroke-width="2"/>
<path d="M354.59999999999997 10.6 L360.59999999999997 16.2" stroke="#b08010" stroke-width="3.2"/>
<path d="M354.8 10.8 L360.4 16" stroke="#f0d050" stroke-width="1.6"/>
<circle cx="351.2" cy="7" r="5.4" fill="#dcf0fc" stroke="#3a7ac8" stroke-width="1.2"/>
<rect x="347.9" y="6" width="6.6" height="2" fill="#4a88b0"/>
<rect x="373" y="1.2" width="7.6" height="7.4" fill="#2a9a20" rx="0.6"/>
<rect x="374.2" y="3.8" width="5.2" height="3.6" fill="#fff"/>
<rect x="381.2" y="1.2" width="7.6" height="7.4" fill="#1a50c8" rx="0.6"/>
<rect x="382.4" y="3.8" width="5.2" height="3.6" fill="#fff"/>
<rect x="373" y="9.4" width="7.6" height="7.4" fill="#1a50c8" rx="0.6"/>
<rect x="374.2" y="12.0" width="5.2" height="3.6" fill="#fff"/>
<rect x="381.2" y="9.4" width="7.6" height="7.4" fill="#2a9a20" rx="0.6"/>
<rect x="382.4" y="12.0" width="5.2" height="3.6" fill="#fff"/>
<path d="M411.4 3.8000000000000003 V16.6 M409.2 14.5 H422.09999999999997" stroke="#555" stroke-width="1.1" fill="none"/>
<path d="M409.79999999999995 5.4 L411.4 3.2 L413.0 5.4 Z M420.5 12.9 L422.7 14.5 L420.5 16.1 Z" fill="#555"/>
<path d="M416.4 5.2 L420 8.5 L416.4 11.8 Z" fill="#60d060" stroke="#10901a" stroke-width="1"/>
<path d="M439.5 3.8000000000000003 V16.6 M437.3 14.5 H450.2" stroke="#555" stroke-width="1.1" fill="none"/>
<path d="M437.9 5.4 L439.5 3.2 L441.1 5.4 Z M448.6 12.9 L450.8 14.5 L448.6 16.1 Z" fill="#555"/>
<path d="M445.5 3 V12.8" stroke="#1a6aa0" stroke-width="1.2"/>
<path d="M446.3 8.4 L449 6 L448.4 8 H450.8 V8.8 H448.4 L449 10.8 Z" fill="#e05010" stroke="#b03010" stroke-width="0.5"/>
<path d="M470.4 1.4 H478.4 L480.8 3.8 V14.8 H470.4 Z" fill="#fff" stroke="#707070" stroke-width="0.9"/>
<path d="M478.4 1.4 V3.8 H480.8" fill="none" stroke="#707070" stroke-width="0.8"/>
<path d="M475 3.6 C473.6 3.8 473.8 6.4 473.2 8.4 C473.8 10.4 473.6 12.6 474.8 13" stroke="#404030" stroke-width="0.9" fill="none"/>
<path d="M478.2 7.2 H481.8 V11 H486 V14.6 H481.8 V18.6 H478.2 V14.6 H474 V11 H478.2 Z" fill="#3ad83a" stroke="#10a010" stroke-width="0.9"/>
<path d="M479.2 8.4 V17.4 M475.2 12 H484.8" stroke="#90f090" stroke-width="0.8"/>
<path d="M491.9 8 H497.09999999999997 L494.5 11 Z" fill="#000"/>
<path d="M530.8 8 H536.0 L533.4 11 Z" fill="#000"/>
<path d="M569.8 8 H575.0 L572.4 11 Z" fill="#000"/>
<path d="M875.9 8 H881.1 L878.5 11 Z" fill="#000"/>
<circle cx="516" cy="9" r="6.8" fill="#f8fbff" stroke="#1a70e0" stroke-width="2.6"/>
<circle cx="516" cy="9" r="8.1" fill="none" stroke="#0a48a8" stroke-width="0.7"/>
<path d="M515.4 4.6 V9.4 H518.8" stroke="#202020" stroke-width="1.1" fill="none"/>
<path d="M516 3.4 V4.2 M516 13.8 V14.6 M510.4 9 H511.2 M520.8 9 H521.6 M513 4.4 l0.3 0.6 M519 4.4 l-0.3 0.6 M513 13.6 l0.3 -0.6 M519 13.6 l-0.3 -0.6" stroke="#8090a0" stroke-width="0.6"/>
<path d="M514.4 12.6 H517.6" stroke="#60a0f0" stroke-width="0.8"/>
<rect x="547.5" y="2.3" width="15" height="13.4" fill="#fff" stroke="#2a6ac0" stroke-width="1"/>
<rect x="548" y="2.8" width="14" height="2.2" fill="#4a8ad8"/>
<path d="M548 10 H562" stroke="#2a6ac0" stroke-width="0.8"/>
<path d="M549 8.4 L551 8.4 L553 7 L555 7.6 L557 6.8 L559 7.4 L561 6.4" stroke="#a02010" stroke-width="0.9" fill="none"/>
<path d="M549 13.6 L551 13.4 L553 12.4 L555 13.2 L557 11.8 L559 12.2 L561 13.6" stroke="#10901a" stroke-width="0.9" fill="none"/>
<path d="M599 2.2 L599 13 L601.6 10.8 L603.8 15.6 L605.6 14.8 L603.4 10.2 L606.8 10 Z" fill="#404040"/>
<path d="M623.8 9.5 H629.8 M633 9.5 H639 M631.5 2 V8 M631.5 11 V17" stroke="#505050" stroke-width="1"/>
<path d="M665.5 3 V16" stroke="#505050" stroke-width="1.2"/>
<path d="M688 9.4 H700" stroke="#505050" stroke-width="1.2"/>
<path d="M715.6 16 L728 3.8" stroke="#505050" stroke-width="1.1"/>
<path d="M741.8 10.4 L749.6 3.1 M747 15.6 L756 7.2" stroke="#606060" stroke-width="0.9"/>
<path d="M744 14.2 L743.6 10 L746.4 12.8 L746 8.2 L749 11 L748.4 6 L751.4 9 L750.8 1.4" stroke="#404040" stroke-width="1.1" fill="none"/>
<path d="M757.4 13.2 H753.6 V17.8 H757.4 M753.6 15.5 H756.6" stroke="#404040" stroke-width="1.1" fill="none"/>
<rect x="770.8" y="1.9" width="1" height="1" fill="#404040"/>
<rect x="772.8499999999999" y="1.9" width="1" height="1" fill="#404040"/>
<rect x="774.8999999999999" y="1.9" width="1" height="1" fill="#404040"/>
<rect x="776.9499999999998" y="1.9" width="1" height="1" fill="#404040"/>
<rect x="778.9999999999998" y="1.9" width="1" height="1" fill="#404040"/>
<rect x="781.0499999999997" y="1.9" width="1" height="1" fill="#404040"/>
<rect x="783.0999999999997" y="1.9" width="1" height="1" fill="#404040"/>
<rect x="770.8" y="5.0" width="1" height="1" fill="#404040"/>
<rect x="772.8499999999999" y="5.0" width="1" height="1" fill="#404040"/>
<rect x="774.8999999999999" y="5.0" width="1" height="1" fill="#404040"/>
<rect x="776.9499999999998" y="5.0" width="1" height="1" fill="#404040"/>
<rect x="778.9999999999998" y="5.0" width="1" height="1" fill="#404040"/>
<rect x="781.0499999999997" y="5.0" width="1" height="1" fill="#404040"/>
<rect x="783.0999999999997" y="5.0" width="1" height="1" fill="#404040"/>
<rect x="770.8" y="8.9" width="1" height="1" fill="#404040"/>
<rect x="772.8499999999999" y="8.9" width="1" height="1" fill="#404040"/>
<rect x="774.8999999999999" y="8.9" width="1" height="1" fill="#404040"/>
<rect x="776.9499999999998" y="8.9" width="1" height="1" fill="#404040"/>
<rect x="778.9999999999998" y="8.9" width="1" height="1" fill="#404040"/>
<rect x="781.0499999999997" y="8.9" width="1" height="1" fill="#404040"/>
<rect x="783.0999999999997" y="8.9" width="1" height="1" fill="#404040"/>
<rect x="770.8" y="13.0" width="1" height="1" fill="#404040"/>
<rect x="772.8499999999999" y="13.0" width="1" height="1" fill="#404040"/>
<rect x="774.8999999999999" y="13.0" width="1" height="1" fill="#404040"/>
<rect x="776.9499999999998" y="13.0" width="1" height="1" fill="#404040"/>
<rect x="778.9999999999998" y="13.0" width="1" height="1" fill="#404040"/>
<path d="M785 13.3 H781.6 V17.8 M781.6 15.4 H784.4" stroke="#404040" stroke-width="1.1" fill="none"/>
<path d="M802.6 14 L805.7 5 L808.8 14 M803.8 10.8 H807.6" stroke="#404040" stroke-width="1.8" fill="none"/>
<rect x="828.0" y="15" width="1" height="1" fill="#404040"/>
<rect x="831.5" y="3" width="1" height="1" fill="#404040"/>
<rect x="830.05" y="15" width="1" height="1" fill="#404040"/>
<rect x="833.3" y="3" width="1" height="1" fill="#404040"/>
<rect x="832.1" y="15" width="1" height="1" fill="#404040"/>
<rect x="835.1" y="3" width="1" height="1" fill="#404040"/>
<rect x="834.15" y="15" width="1" height="1" fill="#404040"/>
<rect x="836.9" y="3" width="1" height="1" fill="#404040"/>
<rect x="836.2" y="15" width="1" height="1" fill="#404040"/>
<rect x="838.7" y="3" width="1" height="1" fill="#404040"/>
<rect x="838.25" y="15" width="1" height="1" fill="#404040"/>
<rect x="840.5" y="3" width="1" height="1" fill="#404040"/>
<rect x="828" y="5" width="1" height="1" fill="#404040"/>
<rect x="839.2" y="3" width="1" height="1" fill="#404040"/>
<rect x="828" y="7" width="1" height="1" fill="#404040"/>
<rect x="839.2" y="5" width="1" height="1" fill="#404040"/>
<rect x="828" y="9" width="1" height="1" fill="#404040"/>
<rect x="839.2" y="7" width="1" height="1" fill="#404040"/>
<rect x="828" y="11" width="1" height="1" fill="#404040"/>
<rect x="839.2" y="9" width="1" height="1" fill="#404040"/>
<rect x="828" y="13" width="1" height="1" fill="#404040"/>
<rect x="839.2" y="11" width="1" height="1" fill="#404040"/>
<rect x="828" y="15" width="1" height="1" fill="#404040"/>
<rect x="839.2" y="13" width="1" height="1" fill="#404040"/>
<rect x="827" y="2" width="2.6" height="1.6" fill="#404040"/>
<path d="M830.2 6.3 H837.9 M834 6.3 V13.8" stroke="#404040" stroke-width="1.4" fill="none"/>
<path d="M855 6.4 L858.6 3 L862.2 6.4 L858.6 7.8 Z M861.8 12.4 L865.4 11 L869 12.4 L865.4 16 Z" fill="#404040"/>
<path d="M857.4 9.6 L859.4 12 L863.6 7.2" stroke="#404040" stroke-width="1.2" fill="none"/>
<text x="903" y="13.5" font-size="11" fill="#303030" textLength="12" lengthAdjust="spacingAndGlyphs">M1</text>
<text x="930.8" y="13.5" font-size="11" fill="#303030" textLength="12" lengthAdjust="spacingAndGlyphs">M5</text>
<text x="956.7" y="13.5" font-size="11" fill="#303030" textLength="17" lengthAdjust="spacingAndGlyphs">M15</text>
<text x="984.5" y="13.5" font-size="11" fill="#303030" textLength="17.7" lengthAdjust="spacingAndGlyphs">M30</text>
<text x="1015.4" y="13.5" font-size="11" fill="#303030" textLength="12" lengthAdjust="spacingAndGlyphs">H1</text>
<text x="1042.6" y="13.5" font-size="11" fill="#303030" textLength="12" lengthAdjust="spacingAndGlyphs">H4</text>
<text x="1071.6" y="13.5" font-size="11" fill="#303030" textLength="11.4" lengthAdjust="spacingAndGlyphs">D1</text>
<text x="1098.7" y="13.5" font-size="11" fill="#303030" textLength="14.5" lengthAdjust="spacingAndGlyphs">W1</text>
<text x="1125.2" y="13.5" font-size="11" fill="#303030" textLength="15.2" lengthAdjust="spacingAndGlyphs">MN</text>
<circle cx="1618.4" cy="6.5" r="3.7" fill="none" stroke="#2f6fd8" stroke-width="1.4"/>
<path d="M1615.8 9.4 L1611.6 13.6" stroke="#2f6fd8" stroke-width="2.4" stroke-linecap="round"/>
<path d="M1636 12 C1634.8 8.4 1640 6 1644 7 C1648 8 1648.6 13 1644.4 15 L1641 15.2 L1639.6 17.4 L1639.8 15 C1637.6 14.6 1636.4 13.6 1636 12 Z" fill="#dcdce4" stroke="#b8b8c0" stroke-width="0.8"/>
<circle cx="1649.6" cy="6.4" r="8" fill="url(#redg)"/>
<path d="M1648 3.6 L1650.4 2.4 V10.2 M1648.2 10.2 H1652.4" stroke="#fff" stroke-width="1.3" fill="none"/>
</g>
</svg>
</body></html>
